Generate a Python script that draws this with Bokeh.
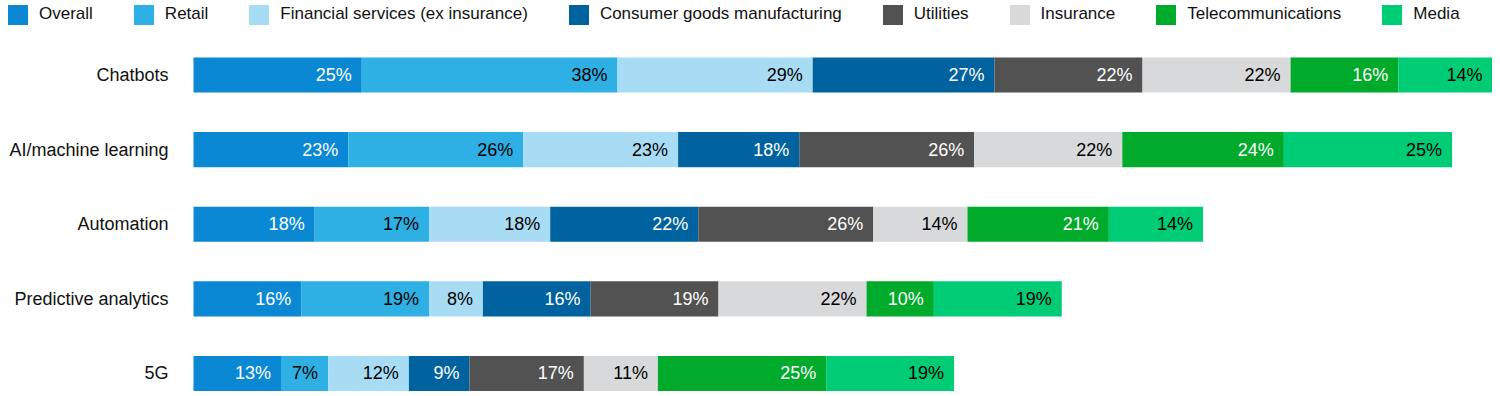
from bokeh.plotting import figure
from bokeh.models import ColumnDataSource, Range1d, Legend, LegendItem
from bokeh.core.properties import value
from bokeh.embed import file_html
from bokeh.resources import INLINE

categories = ["Chatbots", "AI/machine learning", "Automation", "Predictive analytics", "5G"]
series = ["Overall", "Retail", "Financial services (ex insurance)", "Consumer goods manufacturing",
          "Utilities", "Insurance", "Telecommunications", "Media"]
overall = [25, 23, 18, 16, 13]
retail = [38, 26, 17, 19, 7]
financial = [29, 23, 18, 8, 12]
consumer_goods = [27, 18, 22, 16, 9]
utilities = [22, 26, 26, 19, 17]
insurance = [22, 22, 14, 22, 11]
telecom = [16, 24, 21, 10, 25]
media = [14, 25, 14, 19, 19]
values_by_series = [overall, retail, financial, consumer_goods, utilities, insurance, telecom, media]

colors = ["#0A88D4", "#2EB0E4", "#A8DCF4", "#00629E", "#525252", "#D8D9DA", "#00AA2B", "#00CC76"]
label_colors = ["white", "black", "black", "white", "white", "black", "white", "black"]

FONT = "Liberation Sans"
W, H = 1492, 392
LABEL_AREA = 193  # px reserved on the left for the category labels
X_MAX = 193
x_start = -LABEL_AREA * X_MAX / (W - LABEL_AREA)

p = figure(width=W, height=H, output_backend="svg", toolbar_location=None,
           x_range=Range1d(x_start, X_MAX), y_range=Range1d(4.255, -0.999),
           min_border_left=0, min_border_right=0, min_border_bottom=0, min_border_top=0)
p.outline_line_color = None
p.grid.visible = False
p.axis.visible = False

ypos = list(range(len(categories)))
left = [0] * len(categories)
items = []
for name, vals, col, lcol in zip(series, values_by_series, colors, label_colors):
    right = [l + v for l, v in zip(left, vals)]
    src = ColumnDataSource(dict(y=ypos, left=left, right=right,
                                label=[f"{v}%" for v in vals]))
    r = p.hbar(y="y", left="left", right="right", height=0.47, source=src,
               fill_color=col, line_color=None)
    p.text(x="right", y="y", text="label", source=src, x_offset=-10,
           text_align="right", text_baseline="middle", text_color=lcol,
           text_font=value(FONT), text_font_size="18px")
    items.append(LegendItem(label=name, renderers=[r]))
    left = right

# category labels (left of the bars)
cat_src = ColumnDataSource(dict(y=ypos, x=[0] * len(categories), name=categories))
p.text(x="x", y="y", text="name", source=cat_src, x_offset=-25,
       text_align="right", text_baseline="middle", text_color="#111111",
       text_font=value(FONT), text_font_size="18px")

legend = Legend(items=items, orientation="horizontal", location=(5, H - 26.5),
                glyph_width=25, glyph_height=25, label_standoff=9, spacing=38,
                padding=0, margin=0, border_line_color=None, background_fill_alpha=0,
                label_text_font=FONT, label_text_font_size="17px", label_text_color="#111111",
                label_height=25)
p.add_layout(legend, "center")

open("out.html", "w").write(file_html(p, INLINE))
